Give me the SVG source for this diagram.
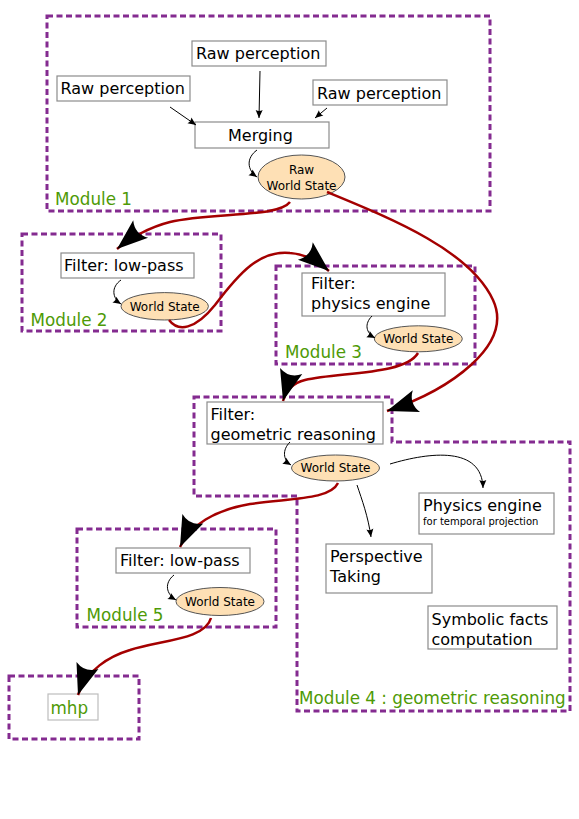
<svg xmlns="http://www.w3.org/2000/svg" width="579" height="819" viewBox="0 0 579 819">
<style>
.mod{fill:none;stroke:#842b90;stroke-width:3;stroke-dasharray:6,3.5}
.box{fill:#fff;stroke:#8c8c8c;stroke-width:1.2}
.ws{fill:#fee0b5;stroke:#555;stroke-width:1}
text{font-family:"DejaVu Sans","Liberation Sans",sans-serif;fill:#000}
.t16{font-size:16px}
.t12{font-size:12px}
.lbl{font-size:16.8px;fill:#4e9a06}
.thin{fill:none;stroke:#000;stroke-width:1;marker-end:url(#sm)}
.red{fill:none;stroke:#a40000;stroke-width:2.5;marker-end:url(#big)}
</style>
<defs>
<marker id="big" markerUnits="userSpaceOnUse" viewBox="-32 -13 34 26" markerWidth="34" markerHeight="26" refX="0" refY="0" orient="auto">
<path d="M0,0 L-31,-11.5 Q-23,0 -31,11.5 Z" fill="#000"/>
</marker>
<marker id="sm" markerUnits="userSpaceOnUse" viewBox="-10 -5 11 10" markerWidth="11" markerHeight="10" refX="0" refY="0" orient="auto">
<path d="M0,0 L-8,-3.5 Q-6,0 -8,3.5 Z" fill="#000"/>
</marker>
</defs>

<g id="module1">
<rect class="mod" x="47" y="16" width="443" height="195"/>
<text class="lbl" x="55" y="205">Module 1</text>
</g>
<g id="raw-perception-top">
<rect class="box" x="192" y="41" width="134" height="25"/>
<text class="t16" x="196" y="59">Raw perception</text>
</g>
<g id="raw-perception-left">
<rect class="box" x="57" y="76" width="133" height="25"/>
<text class="t16" x="60.5" y="94">Raw perception</text>
</g>
<g id="raw-perception-right">
<rect class="box" x="313" y="80" width="134" height="25"/>
<text class="t16" x="317" y="98.5">Raw perception</text>
</g>
<g id="merging">
<rect class="box" x="195" y="122" width="134" height="26"/>
<text class="t16" x="228" y="140.5">Merging</text>
</g>
<g id="raw-world-state">
<ellipse class="ws" cx="301.5" cy="177" rx="43.5" ry="22"/>
<text class="t12" x="301.5" y="174" text-anchor="middle">Raw</text>
<text class="t12" x="301.5" y="190" text-anchor="middle">World State</text>
</g>

<g id="module2">
<rect class="mod" x="22" y="234" width="199" height="97"/>
<text class="lbl" x="30.5" y="326">Module 2</text>
</g>
<g id="filter-lowpass-2">
<rect class="box" x="61" y="253" width="133" height="25"/>
<text class="t16" x="64" y="270.5">Filter: low-pass</text>
</g>
<g id="world-state-2">
<ellipse class="ws" cx="164.7" cy="306.3" rx="43.7" ry="13.7"/>
<text class="t12" x="164.7" y="310.5" text-anchor="middle">World State</text>
</g>

<g id="module3">
<rect class="mod" x="276" y="266" width="199" height="98"/>
<text class="lbl" x="285" y="357.5">Module 3</text>
</g>
<g id="filter-physics">
<rect class="box" x="302" y="273" width="143" height="43"/>
<text class="t16" x="311" y="288.5">Filter:</text>
<text class="t16" x="311" y="308.5">physics engine</text>
</g>
<g id="world-state-3">
<ellipse class="ws" cx="418.3" cy="338.8" rx="44" ry="13"/>
<text class="t12" x="418.3" y="342.8" text-anchor="middle">World State</text>
</g>

<g id="module4">
<path class="mod" d="M194,397 L392,397 L392,442 L570,442 L570,711 L297,711 L297,496 L194,496 Z"/>
<text class="lbl" x="299" y="703.5">Module 4 : geometric reasoning</text>
</g>
<g id="filter-geometric">
<rect class="box" x="207" y="402" width="176" height="42"/>
<text class="t16" x="210.5" y="419.5">Filter:</text>
<text class="t16" x="210.5" y="439.5">geometric reasoning</text>
</g>
<g id="world-state-4">
<ellipse class="ws" cx="335.5" cy="468" rx="44" ry="13"/>
<text class="t12" x="335.5" y="472.2" text-anchor="middle">World State</text>
</g>
<g id="physics-engine">
<rect class="box" x="419" y="493" width="135" height="41"/>
<text class="t16" x="423" y="511">Physics engine</text>
<text x="423" y="525.3" style="font-size:10px">for temporal projection</text>
</g>
<g id="perspective-taking">
<rect class="box" x="326" y="544" width="106" height="49"/>
<text class="t16" x="330" y="562">Perspective</text>
<text class="t16" x="330" y="582">Taking</text>
</g>
<g id="symbolic-facts">
<rect class="box" x="428" y="606" width="129" height="43"/>
<text class="t16" x="431.5" y="624.5">Symbolic facts</text>
<text class="t16" x="431.5" y="644.5">computation</text>
</g>

<g id="module5">
<rect class="mod" x="77" y="529" width="199" height="98"/>
<text class="lbl" x="86.5" y="621">Module 5</text>
</g>
<g id="filter-lowpass-5">
<rect class="box" x="116" y="548" width="134" height="25"/>
<text class="t16" x="120" y="566">Filter: low-pass</text>
</g>
<g id="world-state-5">
<ellipse class="ws" cx="220" cy="601.5" rx="44" ry="14"/>
<text class="t12" x="220" y="605.7" text-anchor="middle">World State</text>
</g>

<g id="mhp-module">
<rect class="mod" x="9" y="676" width="130" height="63"/>
</g>
<g id="mhp">
<rect x="48" y="694" width="50" height="26" fill="#fff" stroke="#bdbdbd" stroke-width="1.2"/>
<text class="lbl" x="50.5" y="713.5">mhp</text>
</g>

<g id="connectors">
<path class="thin" d="M170,107 L196,125"/>
<path class="thin" d="M260,71 L259,118"/>
<path class="thin" d="M327,108 L315,118"/>
<path class="thin" d="M257,150 C 246,158 247,170 257,177"/>
<path class="thin" d="M121,280 C 111,287 112,298 121,304"/>
<path class="thin" d="M372,316 C 364,324 366,333 375,338"/>
<path class="thin" d="M290,442 C 282,450 283,460 291,465"/>
<path class="thin" d="M390,464 C 430,452 482,446 483,488"/>
<path class="thin" d="M357,485 C 362,500 368,516 371,537"/>
<path class="thin" d="M174,575 C 164,583 166,594 176,600"/>

<path class="red" d="M290,202 C 278,218 210,212 170,222 C 150,227 130,238 117,249"/>
<path class="red" d="M169,320 C 178,332 195,330 215,305 C 240,272 260,250 290,253 C 305,254 316,260 329,271"/>
<path class="red" d="M418,353 C 405,375 340,372 305,380 C 292,383 286,390 283,401"/>
<path class="red" d="M327,192 C 390,218 470,250 493,300 C 514,345 450,390 387,411"/>
<path class="red" d="M338,483 C 330,500 290,498 250,504 C 215,510 190,525 180,547"/>
<path class="red" d="M211,618 C 205,640 160,640 130,650 C 110,656 86,670 78,695"/>
</g>
</svg>
